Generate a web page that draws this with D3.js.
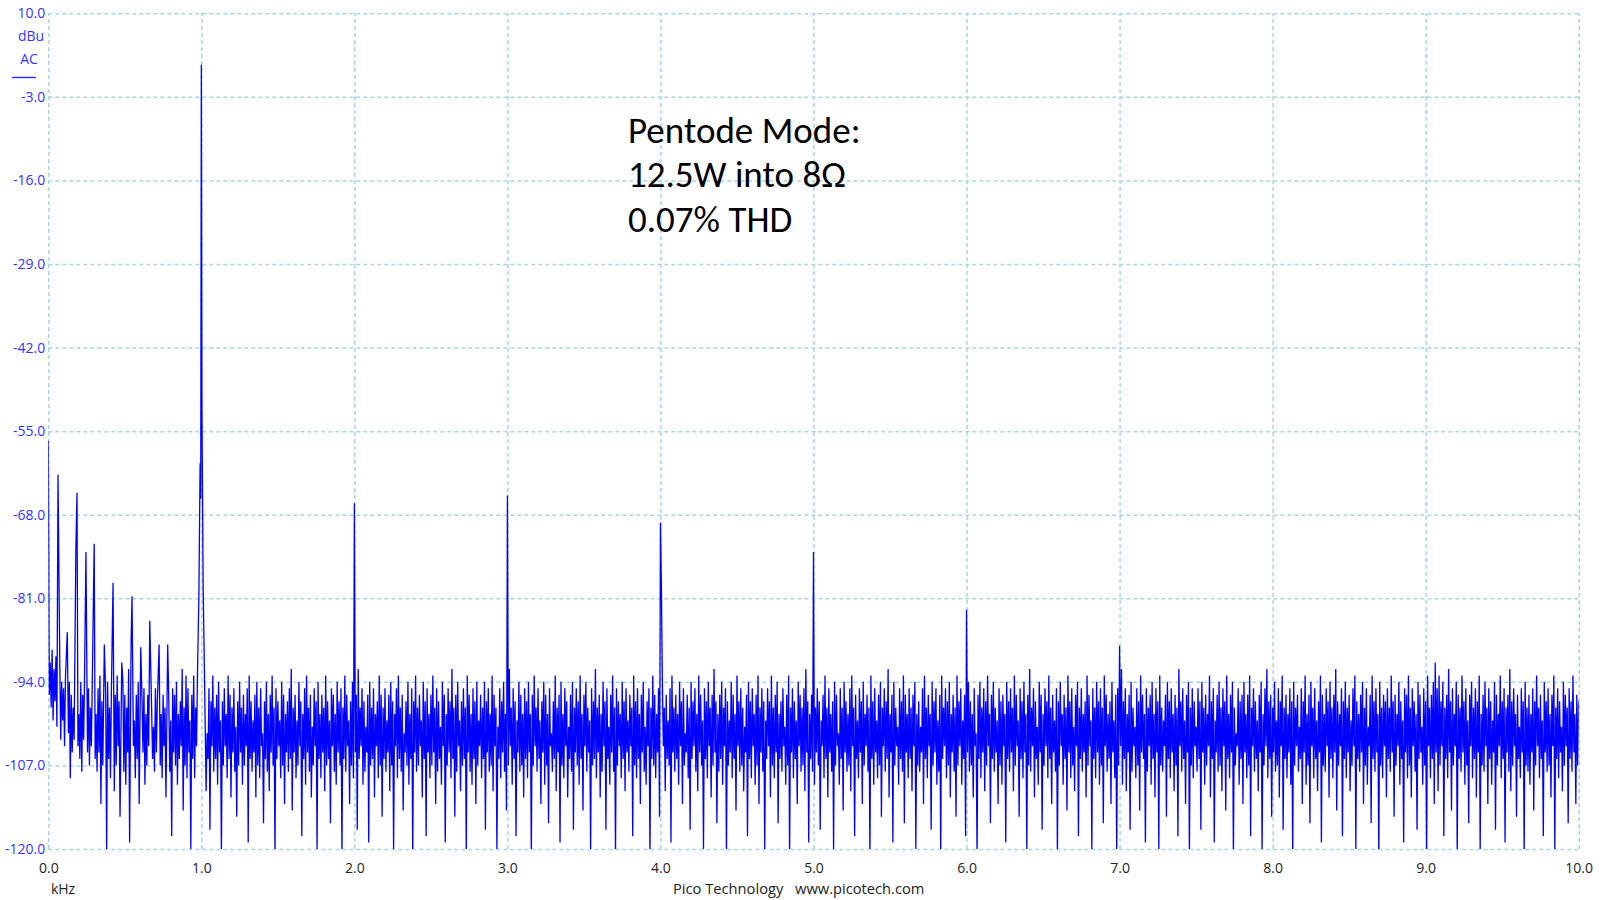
<!DOCTYPE html>
<html><head><meta charset="utf-8">
<script src="https://cdn.jsdelivr.net/npm/d3@7"></script>
<style>
html,body{margin:0;padding:0;background:#fff;}
svg{display:block;}
</style></head>
<body>
<svg id="chart" width="1600" height="900"></svg>
<script>
// ---------- DATA ----------
const xTicks = [0,1,2,3,4,5,6,7,8,9,10];
const xTickLabels = ["0.0","1.0","2.0","3.0","4.0","5.0","6.0","7.0","8.0","9.0","10.0"];
const yTicks = [10,-3,-16,-29,-42,-55,-68,-81,-94,-107,-120];
const yTickLabels = ["10.0","-3.0","-16.0","-29.0","-42.0","-55.0","-68.0","-81.0","-94.0","-107.0","-120.0"];

// noise floor read as an envelope: for each 0.0125 kHz column the top of the trace
// (at f = i*step) and the bottom of the trace (at f = (i+0.5)*step), in dBu
const noiseStep = 0.0125;
const noiseTopDb = [
-90,-91,-89,-92,-90,-93,-91,-94,-95,-93,-97,-94,-96,-98,-93,-95,-99,-94,-96,-92,-97,-95,-98,-94,-96,
-99,-95,-93,-97,-100,-96,-94,-98,-95,-101,-96,-93,-97,-99,-94,-96,-98,-92,-97,-95,-100,-96,-94,-98,-97,
-95,-99,-96,-93,-98,-101,-95,-97,-94,-99,-96,-98,-93,-97,-100,-95,-96,-94,-99,-97,-92,-98,-96,-95,-100,
-96,-93,-98,-95,-97,-94,-99,-96,-102,-95,-97,-93,-98,-96,-94,-100,-97,-95,-99,-93,-96,-98,-95,-101,-97,
-94,-98,-96,-99,-95,-93,-97,-100,-96,-94,-98,-95,-102,-97,-94,-99,-96,-93,-98,-95,-97,-100,-94,-96,-99,
-97,-95,-92,-98,-96,-100,-94,-97,-99,-95,-93,-98,-96,-101,-95,-97,-94,-99,-96,-98,-93,-97,-100,-95,-96,
-99,-94,-97,-95,-98,-93,-96,-100,-97,-94,-99,-96,-92,-98,-95,-97,-101,-96,-94,-98,-95,-99,-97,-93,-96,
-98,-95,-100,-96,-94,-97,-99,-95,-93,-98,-96,-102,-97,-94,-99,-95,-97,-93,-98,-96,-100,-94,-97,-95,-99,
-96,-93,-98,-95,-97,-101,-94,-96,-99,-95,-97,-92,-98,-96,-94,-100,-97,-95,-98,-93,-96,-99,-95,-97,-94,
-100,-96,-98,-94,-97,-95,-99,-93,-96,-98,-101,-95,-97,-94,-99,-96,-92,-98,-95,-97,-100,-94,-96,-99,-95,
-97,-94,-99,-96,-93,-98,-95,-100,-97,-94,-96,-99,-95,-102,-97,-93,-98,-96,-94,-99,-95,-97,-101,-96,-94,
-98,-95,-97,-93,-99,-96,-94,-98,-100,-95,-97,-92,-98,-96,-99,-94,-97,-95,-101,-96,-93,-98,-95,-97,-99,
-94,-97,-95,-100,-96,-98,-93,-97,-95,-99,-96,-94,-101,-97,-95,-98,-93,-96,-99,-95,-97,-94,-98,-96,-100,
-95,-93,-98,-96,-99,-94,-97,-95,-102,-96,-98,-94,-97,-95,-99,-93,-96,-100,-95,-97,-94,-98,-96,-92,-97,
-99,-96,-94,-98,-95,-97,-100,-94,-96,-99,-93,-97,-95,-98,-101,-96,-94,-97,-95,-99,-96,-93,-98,-95,-97,
-100,-95,-97,-93,-98,-96,-94,-99,-97,-95,-101,-96,-93,-98,-95,-97,-100,-94,-96,-98,-95,-92,-97,-99,-96,
-94,-98,-95,-97,-100,-96,-93,-98,-95,-99,-97,-94,-96,-102,-95,-98,-94,-97,-99,-95,-93,-98,-96,-100,-95,
-97,-94,-99,-96,-98,-93,-97,-95,-100,-96,-94,-98,-95,-97,-92,-99,-96,-94,-98,-101,-95,-97,-93,-96,-99,
-95,-98,-96,-94,-99,-97,-101,-95,-93,-98,-96,-99,-94,-97,-95,-100,-96,-93,-98,-95,-97,-94,-99,-96,-98,
-93,-97,-95,-100,-96,-98,-94,-97,-99,-95,-102,-96,-94,-98,-95,-97,-93,-99,-96,-94,-98,-100,-95,-97,-96,
-99,-94,-97,-95,-98,-93,-96,-100,-95,-97,-94,-99,-96,-92,-98,-95,-97,-101,-94,-96,-99,-95,-97,-93,-98,
-96,-100,-95,-97,-94,-99,-96,-98,-93,-97,-95,-101,-96,-94,-98,-95,-99,-97,-93,-96,-100,-95,-98,-94,-97,
-95,-98,-93,-96,-99,-97,-94,-100,-96,-95,-98,-92,-97,-95,-99,-96,-94,-98,-101,-95,-97,-93,-96,-99,-95,
-98,-96,-94,-99,-95,-97,-93,-98,-100,-96,-94,-97,-95,-99,-96,-98,-92,-97,-95,-100,-96,-94,-98,-95,-97,
-101,-95,-97,-94,-98,-96,-99,-93,-97,-95,-100,-96,-94,-98,-95,-97,-93,-99,-96,-94,-98,-102,-95,-97,-96,
-94,-99,-96,-93,-98,-95,-97,-100,-96,-94,-99,-95,-92,-97,-96,-98,-94,-100,-95,-97,-93,-98,-96,-99,-95,
-97,-94,-98,-96,-101,-95,-97,-93,-99,-96,-94,-98,-95,-100,-97,-93,-96,-99,-95,-97,-94,-98,-96,-92,-97,
-99,-95,-97,-94,-98,-96,-100,-95,-93,-97,-99,-96,-94,-98,-95,-101,-96,-93,-97,-95,-99,-94,-98,-96,-97,
-95,-98,-93,-97,-96,-99,-94,-97,-100,-95,-96,-93,-98,-95,-97,-99,-94,-96,-101,-95,-97,-93,-98,-96,-94,
-91,-95,-93,-97,-94,-98,-96,-92,-97,-95,-99,-94,-96,-98,-93,-97,-95,-100,-96,-94,-98,-95,-97,-93,-99,
-96,-94,-98,-95,-97,-100,-94,-96,-99,-93,-97,-95,-98,-96,-92,-97,-95,-99,-96,-101,-95,-97,-94,-98,-96,
-99,-95,-97,-93,-98,-96,-100,-94,-97,-95,-99,-96,-93,-98,-95,-97,-101,-94,-96,-98,-95,-97,-93,-99,-96,
-97
];
const noiseBottomDb = [
-96,-98,-100,-97,-101,-99,-103,-100,-104,-107,-102,-109,-105,-103,-112,-104,-106,-108,-103,-117,-105,-107,-104,-110,-106,
-108,-105,-113,-107,-104,-120,-106,-109,-105,-111,-107,-104,-115,-106,-108,-110,-105,-119,-107,-104,-109,-106,-113,-108,-105,
-110,-107,-104,-116,-106,-108,-105,-121,-107,-109,-104,-112,-106,-108,-118,-105,-107,-110,-106,-104,-114,-107,-109,-105,-120,
-106,-109,-104,-108,-113,-105,-107,-111,-106,-117,-104,-108,-106,-110,-105,-122,-107,-104,-109,-106,-112,-105,-108,-115,-107,
-105,-110,-107,-104,-119,-106,-108,-105,-112,-107,-109,-104,-116,-106,-108,-111,-105,-107,-121,-106,-104,-109,-107,-113,-105,
-108,-106,-114,-105,-109,-107,-104,-118,-106,-110,-105,-108,-112,-107,-104,-120,-106,-109,-105,-111,-107,-106,-116,-104,-108,
-110,-105,-107,-121,-106,-108,-104,-113,-107,-109,-105,-117,-106,-104,-110,-108,-105,-119,-107,-106,-112,-104,-109,-107,-115,
-106,-108,-105,-111,-107,-120,-104,-109,-106,-108,-114,-105,-107,-110,-106,-122,-105,-108,-107,-104,-112,-106,-118,-105,-109,
-107,-105,-113,-108,-106,-110,-104,-119,-107,-105,-109,-106,-115,-108,-104,-111,-107,-106,-121,-105,-108,-110,-106,-113,-107,
-104,-109,-106,-117,-105,-108,-107,-111,-104,-120,-106,-109,-105,-108,-114,-107,-104,-110,-106,-118,-105,-108,-107,-112,-106,
-109,-105,-121,-107,-104,-108,-106,-113,-105,-110,-107,-116,-104,-108,-106,-111,-105,-119,-107,-109,-104,-112,-106,-108,-117,
-105,-107,-110,-106,-114,-104,-108,-105,-120,-107,-106,-109,-105,-112,-108,-104,-117,-106,-110,-105,-108,-122,-107,-104,-109,
-106,-111,-105,-108,-104,-118,-107,-109,-106,-113,-105,-108,-110,-104,-121,-106,-107,-109,-105,-115,-108,-104,-111,-106,-107,
-119,-105,-108,-106,-110,-104,-113,-107,-105,-109,-117,-106,-104,-108,-111,-105,-107,-120,-106,-109,-104,-112,-107,-105,-116,
-108,-106,-110,-104,-121,-107,-105,-109,-106,-114,-104,-108,-107,-111,-105,-118,-106,-109,-104,-110,-107,-113,-105,-108,-120,
-106,-104,-112,-107,-109,-105,-116,-106,-108,-104,-110,-107,-122,-105,-109,-106,-113,-104,-108,-107,-111,-105,-119,-106,-108,
-110,-105,-107,-117,-104,-109,-106,-112,-105,-108,-120,-107,-104,-110,-106,-114,-105,-108,-107,-111,-104,-118,-106,-109,-105,
-113,-107,-104,-108,-121,-106,-110,-105,-109,-107,-115,-104,-108,-106,-112,-105,-119,-107,-104,-110,-106,-108,-116,-105,-109,
-106,-111,-104,-120,-107,-108,-105,-113,-106,-109,-104,-117,-107,-105,-110,-108,-122,-106,-104,-109,-107,-112,-105,-108,-115,
-107,-104,-110,-106,-118,-105,-108,-107,-112,-104,-121,-106,-109,-105,-111,-107,-104,-116,-106,-108,-105,-113,-107,-110,-104,
-119,-106,-108,-105,-111,-107,-104,-115,-106,-109,-105,-120,-107,-108,-104,-112,-106,-110,-105,-117,-107,-104,-109,-106,-113,
-105,-108,-121,-107,-104,-110,-106,-114,-105,-109,-107,-111,-104,-118,-106,-108,-105,-112,-107,-104,-120,-106,-109,-105,-110,
-107,-116,-104,-108,-106,-113,-105,-109,-122,-107,-104,-110,-106,-111,-105,-117,-108,-104,-109,-107,-114,-105,-106,-119,-108,
-104,-110,-106,-112,-105,-120,-107,-108,-104,-115,-106,-109,-105,-111,-107,-118,-104,-108,-106,-113,-105,-121,-107,-109,-104,
-108,-106,-117,-105,-110,-107,-104,-112,-106,-119,-105,-108,-107,-111,-104,-114,-106,-109,-105,-122,-107,-104,-110,-106,-113,
-105,-109,-107,-118,-104,-108,-106,-111,-105,-120,-107,-104,-109,-106,-115,-105,-108,-107,-112,-104,-117,-106,-109,-105,-110,
-121,-107,-104,-108,-106,-113,-105,-110,-107,-116,-104,-109,-106,-111,-105,-119,-107,-108,-104,-112,-106,-109,-105,-114,-107,
-104,-118,-106,-109,-105,-111,-107,-104,-120,-106,-108,-105,-113,-107,-110,-104,-116,-106,-108,-105,-121,-107,-109,-104,-112,
-106,-108,-105,-115,-107,-104,-110,-106,-119,-105,-109,-107,-112,-104,-108,-117,-106,-105,-110,-107,-122,-104,-109,-106,-113,
-105,-111,-107,-104,-118,-106,-109,-105,-114,-107,-104,-121,-106,-108,-105,-110,-107,-116,-104,-109,-106,-112,-105,-120,-107,
-108,-104,-113,-106,-110,-105,-117,-107,-104,-109,-106,-119,-105,-108,-111,-107,-104,-115,-106,-109,-105,-121,-107,-108,-110,
-105,-114,-107,-104,-109,-106,-118,-105,-108,-107,-112,-104,-120,-106,-109,-105,-111,-107,-104,-116,-106,-108,-105,-113,-107
];

// mains hum spurs (60 Hz family) below 1 kHz
const spurFreq = [0.0, 0.0634, 0.124, 0.180, 0.1875, 0.246, 0.296, 0.300, 0.366, 0.423, 0.48, 0.541, 0.547, 0.604, 0.663, 0.724, 0.780, 0.90];
const spurDb   = [-56.5, -61.8, -86.3, -73.5, -64.6, -73.8, -79.0, -72.5, -88.2, -78.6, -91.0, -87.9, -80.7, -88.6, -84.5, -88.2, -88.2, -93.0];

// fundamental (1 kHz) with its skirt
const fundFreq = [0.975, 0.984, 0.992, 0.996, 1.0, 1.004, 1.012, 1.02];
const fundDb   = [-92.5, -80.5, -60.0, -65.5, 2.0, -51.5, -79.6, -92.0];

// harmonics
const harmFreq = [2.0, 3.0, 4.0, 4.006, 5.0, 6.0, 7.0];
const harmDb   = [-66.2, -65.0, -69.2, -79.0, -73.8, -82.8, -88.4];

const annotation = ["Pentode Mode:", "12.5W into 8\u03A9", "0.07% THD"];

// ---------- LAYOUT ----------
const svg = d3.select("#chart");
const L = 48.3, R = 1578.7, T = 13.3, B = 849;
const x = d3.scaleLinear().domain([0,10]).range([L,R]);
const y = d3.scaleLinear().domain([-120,10]).range([B,T]);
const gridColor = "#a9d6e4";
const font = "'Segoe UI','Open Sans','Noto Sans',sans-serif";
const axisBlue = "#3434f6";

const yAxis = d3.axisLeft(y).tickValues(yTicks).tickSize(-(R-L)).tickPadding(3)
  .tickFormat((d,i)=>yTickLabels[i]);
const gy = svg.append("g").attr("transform",`translate(${L},0)`).call(yAxis);
gy.select(".domain").remove();
gy.selectAll("line").attr("stroke",gridColor).attr("stroke-width",1.5).attr("stroke-dasharray","4,3");
gy.selectAll("text").attr("fill",axisBlue).attr("font-family",font).attr("font-size",14);

const xAxis = d3.axisBottom(x).tickValues(xTicks).tickSize(-(B-T)).tickPadding(14)
  .tickFormat((d,i)=>xTickLabels[i]);
const gx = svg.append("g").attr("transform",`translate(0,${B})`).call(xAxis);
gx.select(".domain").remove();
gx.selectAll("line").attr("stroke",gridColor).attr("stroke-width",1.5).attr("stroke-dasharray","4,3");
gx.selectAll("text").attr("fill","#222").attr("font-family",font).attr("font-size",14);

svg.append("text").attr("x",31).attr("y",41).attr("text-anchor","middle")
  .attr("font-family",font).attr("font-size",14).attr("fill",axisBlue).text("dBu");
svg.append("text").attr("x",29).attr("y",64).attr("text-anchor","middle")
  .attr("font-family",font).attr("font-size",14).attr("fill",axisBlue).text("AC");
svg.append("line").attr("x1",12).attr("x2",36).attr("y1",77.5).attr("y2",77.5)
  .attr("stroke",axisBlue).attr("stroke-width",1.5);

svg.append("text").attr("x",63).attr("y",894).attr("text-anchor","middle")
  .attr("font-family",font).attr("font-size",14).attr("fill","#222").text("kHz");
svg.append("text").attr("x",673).attr("y",894)
  .attr("font-family",font).attr("font-size",14.7).attr("fill","#222").text("Pico Technology");
svg.append("text").attr("x",795).attr("y",894)
  .attr("font-family",font).attr("font-size",14.7).attr("fill","#222").text("www.picotech.com");

// ---------- SPECTRUM ----------
const special = [];
spurFreq.forEach((f,i)=>special.push({f, v:spurDb[i]}));
fundFreq.forEach((f,i)=>special.push({f, v:fundDb[i]}));
harmFreq.forEach((f,i)=>special.push({f, v:harmDb[i]}));
const noisePts = [];
noiseTopDb.forEach((v,i)=>noisePts.push({f:i*noiseStep, v}));
noiseBottomDb.forEach((v,i)=>noisePts.push({f:(i+0.5)*noiseStep, v}));
const pts = noisePts.filter(p=>!special.some(s=>Math.abs(s.f-p.f) < 0.006)).concat(special);
pts.sort((a,b)=>a.f-b.f);

svg.append("clipPath").attr("id","clip").append("rect")
  .attr("x",L).attr("y",T).attr("width",R-L).attr("height",B-T);
svg.append("path").datum(pts)
  .attr("clip-path","url(#clip)")
  .attr("fill","none").attr("stroke","#0000ff").attr("stroke-width",1.3)
  .attr("d", d3.line().x(d=>x(d.f)).y(d=>y(Math.max(d.v,-121))));

// ---------- ANNOTATION ----------
svg.append("g").selectAll("text").data(annotation).join("text")
  .attr("x",628).attr("y",(d,i)=>142.5+i*44.9)
  .attr("font-family","Calibri,Carlito,'Open Sans',sans-serif").attr("font-size",37)
  .attr("fill","#000").text(d=>d);
</script>
</body></html>
